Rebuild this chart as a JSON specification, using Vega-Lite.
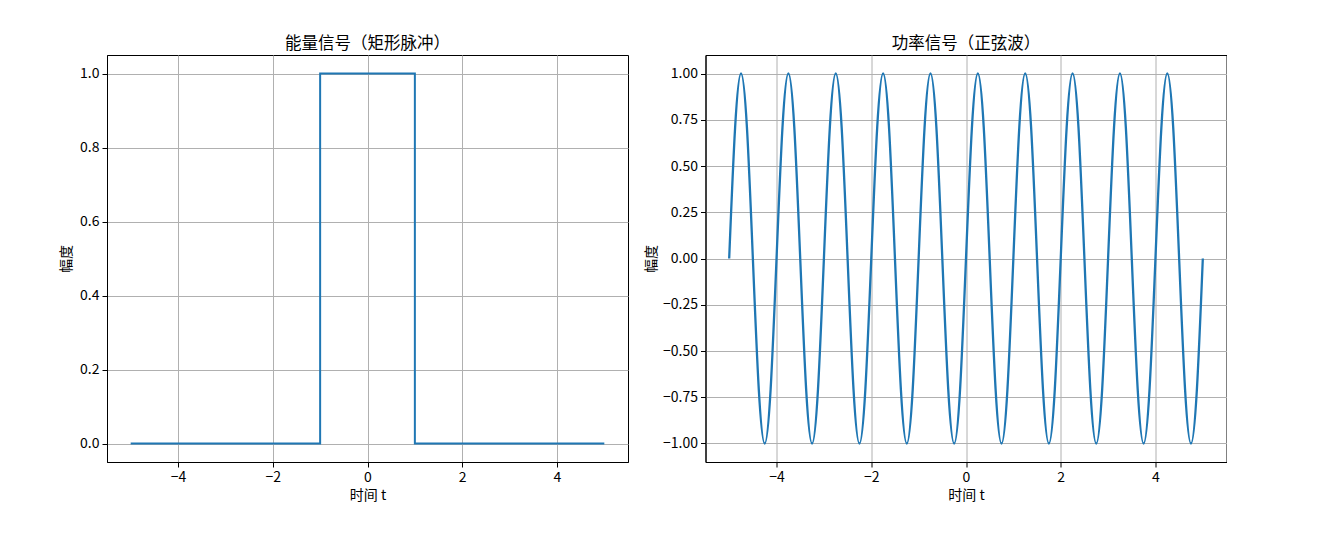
{
  "$schema": "https://vega.github.io/schema/vega-lite/v6.json",
  "padding": {"left": 59, "top": 35, "right": 0, "bottom": 0},
  "background": "white",
  "spacing": 77.5,
  "bounds": "flush",
  "datasets": {
    "pulse": [
      {"i": 0, "t": -5, "y": 0},
      {"i": 1, "t": -1, "y": 0},
      {"i": 2, "t": -1, "y": 1},
      {"i": 3, "t": 1, "y": 1},
      {"i": 4, "t": 1, "y": 0},
      {"i": 5, "t": 5, "y": 0}
    ],
    "sine": [
      {"t": -5, "y": 0}, {"t": -4.875, "y": 0.7071}, {"t": -4.75, "y": 1}, {"t": -4.625, "y": 0.7071},
      {"t": -4.5, "y": 0}, {"t": -4.375, "y": -0.7071}, {"t": -4.25, "y": -1}, {"t": -4.125, "y": -0.7071},
      {"t": -4, "y": 0}, {"t": -3.875, "y": 0.7071}, {"t": -3.75, "y": 1}, {"t": -3.625, "y": 0.7071},
      {"t": -3.5, "y": 0}, {"t": -3.375, "y": -0.7071}, {"t": -3.25, "y": -1}, {"t": -3.125, "y": -0.7071},
      {"t": -3, "y": 0}, {"t": -2.875, "y": 0.7071}, {"t": -2.75, "y": 1}, {"t": -2.625, "y": 0.7071},
      {"t": -2.5, "y": 0}, {"t": -2.375, "y": -0.7071}, {"t": -2.25, "y": -1}, {"t": -2.125, "y": -0.7071},
      {"t": -2, "y": 0}, {"t": -1.875, "y": 0.7071}, {"t": -1.75, "y": 1}, {"t": -1.625, "y": 0.7071},
      {"t": -1.5, "y": 0}, {"t": -1.375, "y": -0.7071}, {"t": -1.25, "y": -1}, {"t": -1.125, "y": -0.7071},
      {"t": -1, "y": 0}, {"t": -0.875, "y": 0.7071}, {"t": -0.75, "y": 1}, {"t": -0.625, "y": 0.7071},
      {"t": -0.5, "y": 0}, {"t": -0.375, "y": -0.7071}, {"t": -0.25, "y": -1}, {"t": -0.125, "y": -0.7071},
      {"t": 0, "y": 0}, {"t": 0.125, "y": 0.7071}, {"t": 0.25, "y": 1}, {"t": 0.375, "y": 0.7071},
      {"t": 0.5, "y": 0}, {"t": 0.625, "y": -0.7071}, {"t": 0.75, "y": -1}, {"t": 0.875, "y": -0.7071},
      {"t": 1, "y": 0}, {"t": 1.125, "y": 0.7071}, {"t": 1.25, "y": 1}, {"t": 1.375, "y": 0.7071},
      {"t": 1.5, "y": 0}, {"t": 1.625, "y": -0.7071}, {"t": 1.75, "y": -1}, {"t": 1.875, "y": -0.7071},
      {"t": 2, "y": 0}, {"t": 2.125, "y": 0.7071}, {"t": 2.25, "y": 1}, {"t": 2.375, "y": 0.7071},
      {"t": 2.5, "y": 0}, {"t": 2.625, "y": -0.7071}, {"t": 2.75, "y": -1}, {"t": 2.875, "y": -0.7071},
      {"t": 3, "y": 0}, {"t": 3.125, "y": 0.7071}, {"t": 3.25, "y": 1}, {"t": 3.375, "y": 0.7071},
      {"t": 3.5, "y": 0}, {"t": 3.625, "y": -0.7071}, {"t": 3.75, "y": -1}, {"t": 3.875, "y": -0.7071},
      {"t": 4, "y": 0}, {"t": 4.125, "y": 0.7071}, {"t": 4.25, "y": 1}, {"t": 4.375, "y": 0.7071},
      {"t": 4.5, "y": 0}, {"t": 4.625, "y": -0.7071}, {"t": 4.75, "y": -1}, {"t": 4.875, "y": -0.7071},
      {"t": 5, "y": 0}
    ]
  },
  "hconcat": [
    {
      "width": 521,
      "height": 407,
      "title": {"text": "能量信号（矩形脉冲）"},
      "data": {"name": "pulse"},
      "mark": {"type": "line", "color": "#1f77b4", "strokeWidth": 2, "clip": true},
      "encoding": {
        "x": {"field": "t", "type": "quantitative", "scale": {"domain": [-5.5, 5.5], "nice": false, "zero": false},
              "axis": {"values": [-4, -2, 0, 2, 4], "format": "d", "title": "时间 t"}},
        "y": {"field": "y", "type": "quantitative", "scale": {"domain": [-0.05, 1.05], "nice": false, "zero": false},
              "axis": {"values": [0, 0.2, 0.4, 0.6, 0.8, 1.0], "format": ".1f", "title": "幅度", "titlePadding": 6}},
        "order": {"field": "i", "type": "quantitative"}
      }
    },
    {
      "width": 521,
      "height": 407,
      "title": {"text": "功率信号（正弦波）"},
      "data": {"name": "sine"},
      "mark": {"type": "line", "color": "#1f77b4", "strokeWidth": 2.3, "interpolate": "natural", "clip": true},
      "encoding": {
        "x": {"field": "t", "type": "quantitative", "scale": {"domain": [-5.5, 5.5], "nice": false, "zero": false},
              "axis": {"values": [-4, -2, 0, 2, 4], "format": "d", "title": "时间 t"}},
        "y": {"field": "y", "type": "quantitative", "scale": {"domain": [-1.1, 1.1], "nice": false, "zero": false},
              "axis": {"values": [-1, -0.75, -0.5, -0.25, 0, 0.25, 0.5, 0.75, 1], "format": ".2f", "title": "幅度"}}
      }
    }
  ],
  "config": {
    "font": "Noto Sans CJK SC",
    "view": {"stroke": "black", "strokeWidth": 1},
    "title": {"font": "Noto Sans CJK SC", "fontSize": 16.5, "fontWeight": "normal", "color": "black", "offset": 3, "anchor": "middle"},
    "axis": {
      "labelFont": "Noto Sans CJK SC",
      "labelFontSize": 14,
      "labelColor": "black",
      "titleFont": "Noto Sans CJK SC",
      "titleFontSize": 14,
      "titleFontWeight": "normal",
      "titleColor": "black",
      "domainColor": "black",
      "tickColor": "black",
      "tickSize": 5,
      "labelPadding": 3,
      "titlePadding": 4,
      "gridColor": "#b0b0b0",
      "gridWidth": 1,
      "gridOpacity": 1
    }
  }
}
